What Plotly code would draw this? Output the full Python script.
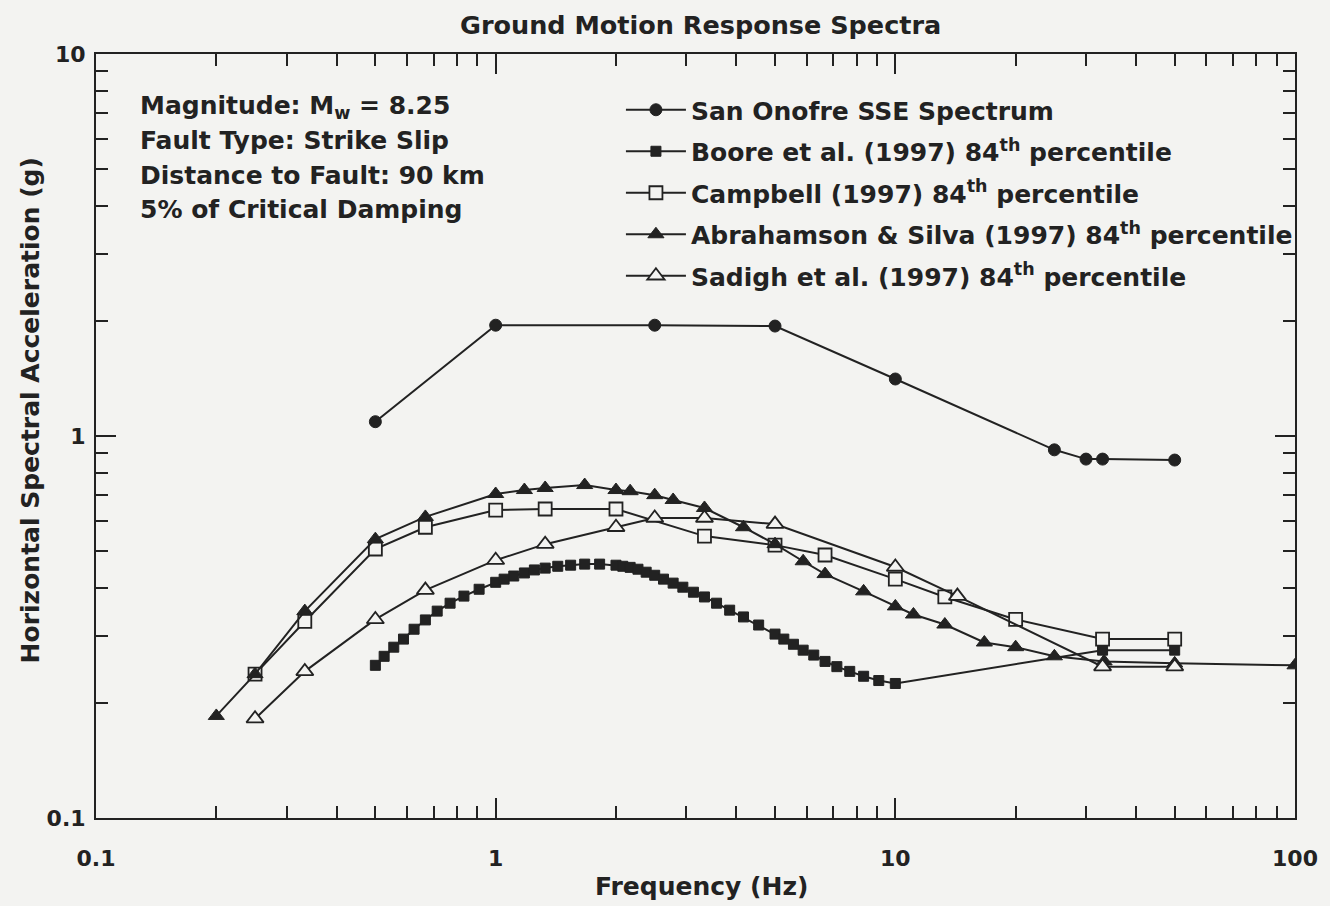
import plotly.graph_objects as go

# ---------------- data ----------------
sse_f = [0.5, 1.0, 2.5, 5.0, 10.0, 25.0, 30.0, 33.0, 50.0]
sse_a = [1.09, 1.95, 1.95, 1.94, 1.41, 0.92, 0.87, 0.87, 0.865]

boore_f = [0.5, 0.526, 0.556, 0.588, 0.625, 0.667, 0.714, 0.769, 0.833, 0.909,
           1.0, 1.05, 1.11, 1.18, 1.25, 1.33, 1.43, 1.54, 1.67, 1.82,
           2.0, 2.08, 2.17, 2.27, 2.38, 2.5, 2.63, 2.78, 2.94, 3.125,
           3.33, 3.57, 3.85, 4.17, 4.55, 5.0, 5.26, 5.56, 5.88, 6.25,
           6.67, 7.14, 7.69, 8.33, 9.09, 10.0, 33.0, 50.0]
boore_a = [0.251, 0.265, 0.280, 0.294, 0.312, 0.330, 0.348, 0.365, 0.381, 0.397,
           0.414, 0.422, 0.430, 0.438, 0.446, 0.451, 0.456, 0.459, 0.462, 0.462,
           0.459, 0.456, 0.453, 0.448, 0.440, 0.432, 0.422, 0.412, 0.402, 0.390,
           0.379, 0.365, 0.350, 0.336, 0.320, 0.303, 0.294, 0.285, 0.275, 0.267,
           0.257, 0.249, 0.242, 0.235, 0.229, 0.225, 0.275, 0.275]

campbell_f = [0.25, 0.333, 0.5, 0.667, 1.0, 1.33, 2.0, 3.33, 5.0, 6.67,
              10.0, 13.3, 20.0, 33.0, 50.0]
campbell_a = [0.238, 0.327, 0.506, 0.577, 0.640, 0.644, 0.644, 0.547, 0.518, 0.488,
              0.422, 0.379, 0.331, 0.294, 0.294]

as_f = [0.2, 0.25, 0.333, 0.5, 0.667, 1.0, 1.18, 1.33, 1.67, 2.0,
        2.17, 2.5, 2.78, 3.33, 4.17, 5.0, 5.88, 6.67, 8.33, 10.0,
        11.1, 13.3, 16.7, 20.0, 25.0, 33.3, 50.0, 100.0]
as_a = [0.185, 0.238, 0.348, 0.537, 0.614, 0.705, 0.722, 0.731, 0.744, 0.722,
        0.717, 0.700, 0.680, 0.648, 0.577, 0.521, 0.470, 0.435, 0.392, 0.358,
        0.341, 0.321, 0.288, 0.280, 0.265, 0.257, 0.254, 0.251]

sadigh_f = [0.25, 0.333, 0.5, 0.667, 1.0, 1.33, 2.0, 2.5, 3.33, 5.0,
            10.0, 14.3, 33.0, 50.0]
sadigh_a = [0.182, 0.242, 0.331, 0.395, 0.473, 0.521, 0.577, 0.610, 0.610, 0.588,
            0.454, 0.381, 0.249, 0.249]

x_tickvals = [0.1, 1, 10, 100]
x_ticktext = ["0.1", "1", "10", "100"]
y_tickvals = [0.1, 1, 10]
y_ticktext = ["0.1", "1", "10"]

info_lines = ["Magnitude: M<sub>w</sub> = 8.25",
              "Fault Type: Strike Slip",
              "Distance to Fault: 90 km",
              "5% of Critical Damping"]

# ---------------- styling ----------------
INK = "#222222"
BG = "#f3f3f1"
FONT = "DejaVu Sans"
L, R, T, B = 96, 28, 54, 88
W, H = 1330, 906
PW, PH = W - L - R, H - T - B


def px_x(px):
    return (px - L) / PW


def px_y(py):
    return (H - B - py) / PH


fig = go.Figure()

series = [
    ("San Onofre SSE Spectrum", sse_f, sse_a, "circle", INK, 12, 1),
    ("Boore et al. (1997) 84<sup>th</sup> percentile", boore_f, boore_a, "square", INK, 10, 1),
    ("Campbell (1997) 84<sup>th</sup> percentile", campbell_f, campbell_a, "square", BG, 13, 1.8),
    ("Abrahamson & Silva (1997) 84<sup>th</sup> percentile", as_f, as_a, "triangle-up", INK, 14, 1),
    ("Sadigh et al. (1997) 84<sup>th</sup> percentile", sadigh_f, sadigh_a, "triangle-up", BG, 15, 1.8),
]

for i, (name, xs, ys, sym, fill, size, lw) in enumerate(series):
    fig.add_trace(go.Scatter(
        x=xs, y=ys, name=name, mode="lines+markers", legendgroup="g%d" % i,
        line=dict(color=INK, width=2),
        marker=dict(symbol=sym, size=size, color=fill, line=dict(color=INK, width=lw)),
    ))

minor_vals = [m * 10 ** e for e in range(-1, 2) for m in range(2, 10)]

axis_common = dict(
    type="log", showgrid=False, zeroline=False,
    showline=True, linecolor=INK, linewidth=2, mirror="ticks",
    ticks="inside", ticklen=20, tickwidth=1.5, tickcolor=INK,
    tickfont=dict(family=FONT, size=22, color=INK, weight="bold"),
    minor=dict(tickvals=minor_vals, ticks="inside", ticklen=12,
               tickwidth=1.5, tickcolor=INK, showgrid=False),
)

fig.update_layout(
    width=W, height=H,
    margin=dict(l=L, r=R, t=T, b=B),
    paper_bgcolor=BG, plot_bgcolor=BG,
    font=dict(family=FONT, color=INK),
    xaxis=dict(range=[-1, 2], tickvals=x_tickvals, ticktext=x_ticktext,
               ticklabelstandoff=20, **axis_common),
    yaxis=dict(range=[-1, 1], tickvals=y_tickvals, ticktext=y_ticktext,
               ticklabelstandoff=4, **axis_common),
    showlegend=True,
    legend=dict(x=px_x(624), y=px_y(87), xanchor="left", yanchor="top",
                bgcolor="rgba(0,0,0,0)", borderwidth=0,
                font=dict(family=FONT, size=25, color=INK, weight="bold"),
                itemwidth=60, tracegroupgap=6),
)

# title
fig.add_annotation(text="<b>Ground Motion Response Spectra</b>", xref="paper", yref="paper",
                   x=px_x(704), y=px_y(25), xanchor="center", yanchor="middle",
                   showarrow=False, font=dict(family=FONT, size=25.5, color=INK))
# axis titles
fig.add_annotation(text="<b>Frequency (Hz)</b>", xref="paper", yref="paper",
                   x=px_x(705), y=px_y(886), xanchor="center", yanchor="middle",
                   showarrow=False, font=dict(family=FONT, size=25, color=INK))
fig.add_annotation(text="<b>Horizontal Spectral Acceleration (g)</b>", xref="paper", yref="paper",
                   x=px_x(30), y=px_y(410), xanchor="center", yanchor="middle",
                   textangle=-90, showarrow=False, font=dict(family=FONT, size=25, color=INK))
# info block
for i, line in enumerate(info_lines):
    fig.add_annotation(text="<b>" + line + "</b>", xref="paper", yref="paper",
                       x=px_x(138), y=px_y(107 + 34 * i), xanchor="left", yanchor="middle",
                       showarrow=False, align="left", font=dict(family=FONT, size=25, color=INK))

fig.write_html("out.html", config={"displayModeBar": False},
               post_script="document.body.style.margin='0';")
